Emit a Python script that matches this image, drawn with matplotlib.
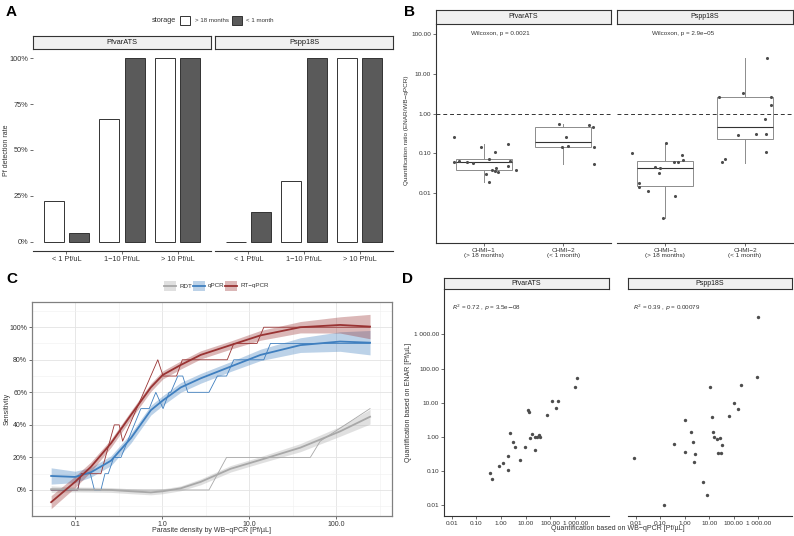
#import libraries
import numpy as np
import matplotlib.pyplot as plt
from matplotlib.patches import Rectangle
from matplotlib.lines import Line2D

plt.rcParams['font.family'] = ['Liberation Sans', 'DejaVu Sans']

#data for panel A
density_groups = ['< 1 Pf/uL', '1\u221210 Pf/uL', '> 10 Pf/uL']
storage_labels = ['> 18 months', '< 1 month']
targets = ['PfvarATS', 'Pspp18S']
detect_old = {'PfvarATS': [0.22, 0.67, 1.0], 'Pspp18S': [0.0, 0.33, 1.0]}
detect_new = {'PfvarATS': [0.05, 1.0, 1.0], 'Pspp18S': [0.16, 1.0, 1.0]}

#data for panel B
chmi_labels = ['CHMI\u22121\n(> 18 months)', 'CHMI\u22122\n(< 1 month)']
wilcox_text = {'PfvarATS': 'Wilcoxon, p = 0.0021', 'Pspp18S': 'Wilcoxon, p = 2.9e\u221205'}
box_q1 = {'PfvarATS': [0.038, 0.143], 'Pspp18S': [0.0152, 0.236]}
box_med = {'PfvarATS': [0.062, 0.198], 'Pspp18S': [0.0425, 0.47]}
box_q3 = {'PfvarATS': [0.071, 0.46], 'Pspp18S': [0.066, 2.67]}
box_lo = {'PfvarATS': [0.0196, 0.053], 'Pspp18S': [0.0024, 0.059]}
box_hi = {'PfvarATS': [0.17, 0.55], 'Pspp18S': [0.17, 24.6]}
ratio_pf1 = [0.255, 0.06, 0.066, 0.062, 0.059, 0.148, 0.030, 0.073, 0.019, 0.038,
             0.109, 0.036, 0.044, 0.035, 0.177, 0.049, 0.063, 0.038]
jitter_pf1 = [-0.37, -0.37, -0.31, -0.21, -0.14, -0.03, 0.03, 0.06, 0.07, 0.11,
              0.14, 0.14, 0.15, 0.18, 0.31, 0.31, 0.33, 0.40]
ratio_pf2 = [0.55, 0.26, 0.143, 0.157, 0.52, 0.45, 0.143, 0.053]
jitter_pf2 = [-0.06, 0.04, -0.02, 0.06, 0.32, 0.37, 0.38, 0.38]
ratio_ps1 = [0.10, 0.018, 0.0146, 0.0115, 0.045, 0.033, 0.042, 0.18, 0.0024, 0.0087,
             0.06, 0.061, 0.092, 0.069]
jitter_ps1 = [-0.41, -0.33, -0.32, -0.21, -0.12, -0.07, -0.06, 0.01, -0.03, 0.13,
              0.11, 0.16, 0.21, 0.23]
ratio_ps2 = [2.67, 3.37, 2.67, 1.63, 0.74, 24.6, 0.29, 0.31, 0.31, 0.06, 0.073, 0.111]
jitter_ps2 = [-0.32, -0.02, 0.32, 0.32, 0.25, 0.28, -0.09, 0.14, 0.26, -0.29, -0.25, 0.26]

#data for panel C (raw step lines)
rdt_x = [0.0525, 3.42, 5.45, 50, 65, 243]
rdt_y = [0, 0, 0.2, 0.2, 0.3, 0.5]
qpcr_x = [0.0525, 0.106, 0.116, 0.148, 0.165, 0.196, 0.218, 0.238, 0.275, 0.333, 0.564,
          0.703, 0.838, 1.016, 1.19, 1.245, 1.50, 1.71, 1.95, 3.42, 4.27, 5.45, 6.6,
          14.6, 17.4, 243]
qpcr_y = [0, 0, 0.1, 0.1, 0, 0, 0.1, 0.1, 0.2, 0.2, 0.5, 0.5, 0.6, 0.5, 0.6, 0.6, 0.7,
          0.7, 0.6, 0.6, 0.7, 0.7, 0.8, 0.8, 0.9, 0.9]
rtq_x = [0.0525, 0.106, 0.116, 0.196, 0.279, 0.318, 0.348, 0.883, 1.016, 1.45, 1.69,
         5.55, 6.6, 12.2, 14.6, 243]
rtq_y = [0, 0, 0.1, 0.1, 0.4, 0.4, 0.3, 0.8, 0.7, 0.7, 0.8, 0.8, 0.9, 0.9, 1.0, 1.0]
#smoothed curves
smooth_x = [0.0525, 0.099, 0.151, 0.256, 0.433, 0.734, 1.008, 1.62, 2.75, 6.06, 13.4,
            38.4, 110, 243]
rdt_fit = [0.005, 0.003, 0.002, 0.0, -0.008, -0.015, -0.008, 0.01, 0.05, 0.13, 0.185,
           0.26, 0.36, 0.45]
rdt_se = [0.02, 0.015, 0.015, 0.015, 0.015, 0.015, 0.015, 0.015, 0.018, 0.02, 0.02,
          0.025, 0.03, 0.045]
qpcr_fit = [0.086, 0.08, 0.109, 0.18, 0.318, 0.49, 0.55, 0.63, 0.686, 0.758, 0.83,
            0.89, 0.912, 0.905]
qpcr_se = [0.05, 0.035, 0.03, 0.03, 0.03, 0.03, 0.03, 0.03, 0.03, 0.03, 0.035,
           0.045, 0.06, 0.075]
rtq_fit = [-0.075, 0.05, 0.143, 0.287, 0.46, 0.63, 0.707, 0.768, 0.83, 0.89, 0.95,
           1.0, 1.014, 1.004]
rtq_se = [0.04, 0.035, 0.03, 0.025, 0.025, 0.025, 0.025, 0.025, 0.025, 0.025, 0.03,
          0.035, 0.05, 0.075]

#data for panel D
wb_pf = [1230, 1000, 120, 209, 168, 75, 12, 14, 2.4, 3.06, 3.7, 1.98, 1.2, 0.83, 1.92,
         0.36, 0.43, 6.0, 9.4, 23, 15.5, 18.5, 24.5, 29.5, 33.7, 38]
enar_pf = [54, 29, 11.5, 11, 7.2, 4.4, 6.0, 5.5, 1.28, 0.73, 0.5, 0.27, 0.177, 0.142,
           0.11, 0.091, 0.06, 0.22, 0.52, 0.42, 0.91, 1.25, 1.0, 1.0, 1.17, 1.02]
wb_ps = [850, 190, 11, 106, 149, 66, 12.4, 1.0, 13.6, 1.75, 16.3, 20.4, 27.7, 2.1, 0.35,
         34, 1.07, 2.7, 22.4, 30.6, 2.3, 0.0084, 5.4, 8.3, 0.15, 1000]
enar_ps = [57, 33, 29.6, 10, 6.6, 4.1, 3.85, 3.1, 1.4, 1.37, 1.02, 0.89, 0.91, 0.71, 0.64,
           0.58, 0.37, 0.32, 0.33, 0.34, 0.18, 0.24, 0.05, 0.0205, 0.0102, 3300]
corr_text = {'PfvarATS': r'$R^2$ = 0.72 , $p$ = 3.5e$-$08',
             'Pspp18S': r'$R^2$ = 0.39 , $p$ = 0.00079'}
log_ticks = [0.01, 0.1, 1, 10, 100, 1000]
log_labels = ['0.01', '0.10', '1.00', '10.00', '100.00', '1 000.00']

W, H = 794, 536
fig = plt.figure(figsize=(7.94, 5.36), dpi=100)
dark = '#333333'


def box(x0, y0, x1, y1):
    #axes placed by pixel position (top-left origin)
    return fig.add_axes([x0 / W, 1 - y1 / H, (x1 - x0) / W, (y1 - y0) / H])


def ftext(x, y, s, **kw):
    #figure text placed by pixel position
    return fig.text(x / W, 1 - y / H, s, color=dark, **kw)


def strip(x0, y0, x1, y1, label, size):
    s = box(x0, y0, x1, y1)
    s.set_facecolor('#F0F0F0')
    s.set_xticks([])
    s.set_yticks([])
    for sp in s.spines.values():
        sp.set_color(dark)
        sp.set_linewidth(0.8)
    s.text(0.5, 0.5, label, ha='center', va='center', fontsize=size, color='#1A1A1A',
           transform=s.transAxes)


def classic(ax, left, size):
    ax.spines['top'].set_visible(False)
    ax.spines['right'].set_visible(False)
    ax.spines['left'].set_visible(left)
    ax.spines['bottom'].set_color(dark)
    ax.spines['left'].set_color(dark)
    ax.spines['bottom'].set_linewidth(0.8)
    ax.spines['left'].set_linewidth(0.8)
    ax.tick_params(length=2, width=0.5, color=dark, labelsize=size, labelcolor=dark, pad=1.5)
    ax.patch.set_alpha(0)


#panel A
fig.text(6 / W, 1 - 5 / H, 'A', fontsize=11, fontweight='bold', va='top')
ftext(176, 20.5, 'storage', fontsize=5.3, ha='right', va='center')
fig.patches.append(Rectangle((180 / W, 1 - 25 / H), 10 / W, 9 / H, facecolor='white',
                             edgecolor=dark, lw=0.7, transform=fig.transFigure))
ftext(195, 20.5, storage_labels[0], fontsize=4.4, va='center')
fig.patches.append(Rectangle((232 / W, 1 - 25 / H), 10 / W, 9 / H, facecolor='#5A5A5A',
                             edgecolor=dark, lw=0.7, transform=fig.transFigure))
ftext(246, 20.5, storage_labels[1], fontsize=4.4, va='center')
ftext(7, 150, 'Pf detection rate', fontsize=5.0, rotation=90, ha='center', va='center')
for i, t in enumerate(targets):
    x0, x1 = [(33, 211), (215, 393)][i]
    strip(x0, 36, x1, 49, t, 5.3)
    ax = box(x0, 49, x1, 251)
    xs = np.arange(len(density_groups))
    ax.bar(xs - 0.225, detect_old[t], 0.36, color='white', edgecolor=dark, lw=0.7)
    ax.bar(xs + 0.225, detect_new[t], 0.36, color='#5A5A5A', edgecolor=dark, lw=0.7)
    ax.set_xlim(-0.6, 2.6)
    ax.set_ylim(-0.05, 1.05)
    classic(ax, False, 5.3)
    ax.set_xticks(xs)
    ax.set_xticklabels(density_groups)
    if i == 0:
        ax.set_yticks([0, 0.25, 0.5, 0.75, 1.0])
        ax.set_yticklabels(['0%', '25%', '50%', '75%', '100%'])
    else:
        ax.set_yticks([])

#panel B
fig.text(404 / W, 1 - 5 / H, 'B', fontsize=11, fontweight='bold', va='top')
ftext(407, 130, 'Quantification ratio (ENAR/WB\u2212qPCR)', fontsize=4.6, rotation=90,
      ha='center', va='center')
groups_b = {'PfvarATS': [(ratio_pf1, jitter_pf1), (ratio_pf2, jitter_pf2)],
            'Pspp18S': [(ratio_ps1, jitter_ps1), (ratio_ps2, jitter_ps2)]}
for i, t in enumerate(targets):
    x0, x1 = [(436, 611), (617, 793)][i]
    strip(x0, 10, x1, 24, t, 5.0)
    ax = box(x0, 24, x1, 243)
    ax.set_yscale('log')
    ax.set_ylim(10 ** -3.25, 10 ** 2.25)
    ax.set_xlim(0.4, 2.6)
    stats = []
    for k in range(2):
        stats.append(dict(med=box_med[t][k], q1=box_q1[t][k], q3=box_q3[t][k],
                          whislo=box_lo[t][k], whishi=box_hi[t][k], fliers=[]))
    ax.bxp(stats, positions=[1, 2], widths=0.7, showfliers=False, showcaps=False,
           patch_artist=True,
           boxprops=dict(facecolor='white', edgecolor='#8C8C8C', lw=0.7),
           medianprops=dict(color=dark, lw=0.8),
           whiskerprops=dict(color='#8C8C8C', lw=0.7))
    for k, (vals, jit) in enumerate(groups_b[t]):
        ax.scatter(np.array(jit) + k + 1, vals, s=5, color='#4D4D4D', lw=0, zorder=3)
    ax.axhline(1, ls=(0, (4, 3)), color=dark, lw=0.7)
    ax.text(0.2, 100, wilcox_text[t], fontsize=4.5, va='center', color=dark,
            transform=ax.get_yaxis_transform())
    classic(ax, i == 0, 4.6)
    ax.set_xticks([1, 2])
    ax.set_xticklabels(chmi_labels, linespacing=1.1)
    ax.minorticks_off()
    if i == 0:
        ax.set_yticks([0.01, 0.1, 1, 10, 100])
        ax.set_yticklabels(['0.01', '0.10', '1.00', '10.00', '100.00'])
    else:
        ax.set_yticks([])

#panel C
fig.text(6 / W, 1 - 272 / H, 'C', fontsize=11, fontweight='bold', va='top')
red = '#993333'
blue = '#3F7FBF'
gray = '#A8A8A8'
series_c = [('RDT', gray, rdt_x, rdt_y, rdt_fit, rdt_se),
            ('qPCR', blue, qpcr_x, qpcr_y, qpcr_fit, qpcr_se),
            ('RT\u2212qPCR', red, rtq_x, rtq_y, rtq_fit, rtq_se)]
ax = box(32, 302, 392, 516)
ax.set_xscale('log')
ax.set_xlim(10 ** -1.486, 10 ** 2.638)
ax.set_ylim(-0.16, 1.155)
for name, col, rx, ry, fit, se in series_c:
    fit = np.array(fit)
    se = np.array(se)
    ax.fill_between(smooth_x, fit - se, fit + se, color=col, alpha=0.35, lw=0, zorder=2)
    ax.plot(rx, ry, color=col, lw=0.6, zorder=3)
    ax.plot(smooth_x, fit, color=col, lw=1.3, zorder=4)
ax.set_xticks([0.1, 1, 10, 100])
ax.set_xticklabels(['0.1', '1.0', '10.0', '100.0'])
ax.set_xticks([10 ** -1.5, 10 ** -0.5, 10 ** 0.5, 10 ** 1.5, 10 ** 2.5], minor=True)
ax.set_yticks([0, 0.2, 0.4, 0.6, 0.8, 1.0])
ax.set_yticklabels(['0%', '20%', '40%', '60%', '80%', '100%'])
ax.set_yticks([-0.1, 0.1, 0.3, 0.5, 0.7, 0.9, 1.1], minor=True)
ax.grid(which='major', color='#E3E3E3', lw=0.6)
ax.grid(which='minor', color='#F0F0F0', lw=0.4)
ax.set_axisbelow(True)
for sp in ax.spines.values():
    sp.set_color('#808080')
    sp.set_linewidth(0.9)
ax.tick_params(which='major', length=2, width=0.5, color=dark, labelsize=5, labelcolor=dark, pad=1.5)
ax.tick_params(which='minor', length=0)
ftext(212, 530, 'Parasite density by WB\u2212qPCR [Pf/\u00b5L]', fontsize=5, ha='center', va='center')
ftext(7, 409, 'Sensitivity', fontsize=5, rotation=90, ha='center', va='center')
key_x = [164, 193, 225]
for (name, col, *_), kx in zip(series_c, key_x):
    fig.patches.append(Rectangle((kx / W, 1 - 291 / H), 12 / W, 10 / H, facecolor=col,
                                 alpha=0.35, lw=0, transform=fig.transFigure))
    fig.lines.append(Line2D([kx / W, (kx + 12) / W], [1 - 286 / H, 1 - 286 / H], color=col,
                            lw=1.3, transform=fig.transFigure))
    ftext(kx + 15, 286, name, fontsize=4.5, va='center')

#panel D
fig.text(402 / W, 1 - 272 / H, 'D', fontsize=11, fontweight='bold', va='top')
ftext(408, 402, 'Quantification based on ENAR [Pf/\u00b5L]', fontsize=5, rotation=90,
      ha='center', va='center')
data_d = {'PfvarATS': (wb_pf, enar_pf), 'Pspp18S': (wb_ps, enar_ps)}
for i, t in enumerate(targets):
    x0, x1 = [(444, 609), (628, 792)][i]
    strip(x0, 278, x1, 289, t, 5.0)
    ax = box(x0, 289, x1, 516)
    ax.set_xscale('log')
    ax.set_yscale('log')
    ax.set_xlim(10 ** -2.31, 10 ** 4.37)
    ax.set_ylim(10 ** -2.31, 10 ** 4.33)
    xv, yv = data_d[t]
    ax.scatter(xv, yv, s=6, color='#4D4D4D', lw=0, zorder=3)
    ax.text([0.05, 0.03][i], 0.916, corr_text[t], fontsize=4.5, va='center', color=dark,
            transform=ax.transAxes)
    classic(ax, i == 0, 4.6)
    ax.minorticks_off()
    ax.set_xticks(log_ticks)
    ax.set_xticklabels(log_labels)
    if i == 0:
        ax.set_yticks(log_ticks)
        ax.set_yticklabels(log_labels)
    else:
        ax.set_yticks([])
ftext(618, 529, 'Quantification based on WB\u2212qPCR [Pf/\u00b5L]', fontsize=5,
      ha='center', va='center')

fig.savefig('out.png', dpi=100)
